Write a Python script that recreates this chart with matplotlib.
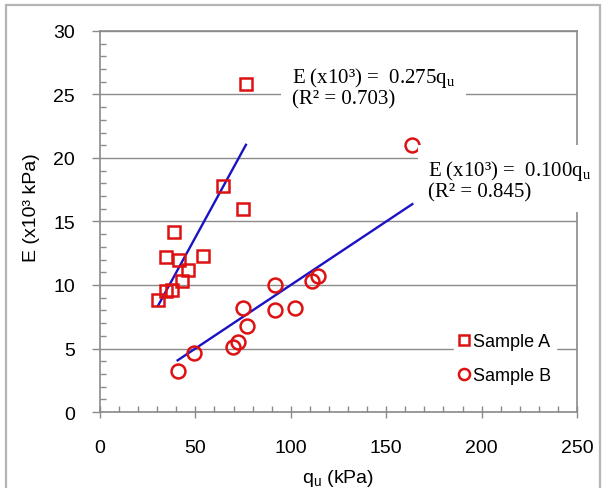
import matplotlib.pyplot as plt
import numpy as np
from matplotlib.patches import Rectangle
from matplotlib.ticker import MultipleLocator

# Sample A (squares) and Sample B (circles): q_u in kPa, E in x10^3 kPa
qu_a = [76.5, 64.6, 75.1, 38.9, 34.4, 41.2, 54.2, 46.3, 42.8, 34.4, 38.0, 30.4]
e_a = [25.8, 17.8, 16.0, 14.2, 12.2, 11.95, 12.3, 11.2, 10.3, 9.5, 9.6, 8.8]
qu_b = [40.7, 49.4, 69.9, 72.5, 77.2, 74.8, 91.7, 91.7, 102.4, 110.9, 114.4, 163.7]
e_b = [3.2, 4.66, 5.1, 5.5, 6.8, 8.15, 10.0, 8.07, 8.15, 10.3, 10.7, 21.0]

# fitted slopes through the origin
slope_a, r2_a = 0.275, 0.703
slope_b, r2_b = 0.100, 0.845

red = "#dd1111"
blue = "#1a12c4"
gray = "#8a8a8a"

fig = plt.figure(figsize=(6.03, 4.89), dpi=100)
ax = fig.add_axes([0.1658, 0.1554, 0.7911, 0.7792])

fig.patches.append(Rectangle((6 / 603, -0.02), 594 / 603, 1.008, transform=fig.transFigure,
                             fill=False, edgecolor="#b5b5b5", linewidth=1.6))

ax.set_xlim(0, 250)
ax.set_ylim(0, 30)
ax.xaxis.set_major_locator(MultipleLocator(50))
ax.xaxis.set_minor_locator(MultipleLocator(10))
ax.yaxis.set_major_locator(MultipleLocator(5))
ax.yaxis.set_minor_locator(MultipleLocator(1))
ax.grid(axis="y", color=gray, linewidth=1.0)
ax.set_axisbelow(True)

for s in ax.spines.values():
    s.set_color(gray)
    s.set_linewidth(1.2)

lab_font = {"family": "Liberation Sans", "size": 14}
ax.tick_params(axis="x", which="major", direction="inout", length=9, width=1, color=gray,
               labelsize=14, pad=15)
ax.tick_params(axis="y", which="major", direction="out", length=6, width=1, color=gray,
               labelsize=14, pad=12)
ax.tick_params(which="minor", direction="in", length=4, width=1, color=gray)
for t in ax.get_xticklabels() + ax.get_yticklabels():
    t.set_fontfamily("Liberation Sans")

# regression lines over the range of each sample
xa = np.array([min(qu_a), max(qu_a)])
xb = np.array([min(qu_b), max(qu_b)])
ax.plot(xa, slope_a * xa, color=blue, linewidth=1.7, zorder=3)
ax.plot(xb, slope_b * xb, color=blue, linewidth=1.7, zorder=3)

ax.plot(qu_a, e_a, "s", markersize=9, markerfacecolor="none", markeredgecolor=red,
        markeredgewidth=1.8, label="Sample A", zorder=4)
ax.plot(qu_b, e_b, "o", markersize=10, markerfacecolor="none", markeredgecolor=red,
        markeredgewidth=1.8, label="Sample B", zorder=4)

ax.set_xlabel(r"q$_\mathregular{u}$ (kPa)", fontdict=lab_font, labelpad=8)
ax.set_ylabel("E (x10³ kPa)", fontdict=lab_font)
ax.yaxis.set_label_coords(-0.125, 0.54)

eq_font = {"family": "Liberation Serif", "size": 15}
box = dict(boxstyle="square,pad=0.5", facecolor="white", edgecolor="none")
ax.text(100.5, 25.6,
        "E (x10³) =  %.3fq$_\\mathregular{u}$\n(R² = %.3f)" % (slope_a, r2_a),
        fontdict=eq_font, ha="left", va="center", linespacing=1.05, bbox=box, zorder=5)
ax.text(171.9, 18.3,
        "E (x10³) =  %.3fq$_\\mathregular{u}$\n(R² = %.3f)" % (slope_b, r2_b),
        fontdict=eq_font, ha="left", va="center", linespacing=1.05, bbox=box, zorder=5,
        clip_on=False)

leg = ax.legend(loc="lower right", bbox_to_anchor=(0.975, 0.035), frameon=True,
                prop={"family": "Liberation Sans", "size": 13}, handlelength=0.6,
                handletextpad=0.15, labelspacing=0.95, markerscale=0.8, borderpad=0.3)
leg.get_frame().set_edgecolor("white")
leg.get_frame().set_facecolor("white")
leg.get_frame().set_alpha(1)

fig.savefig("out.png", dpi=100)
